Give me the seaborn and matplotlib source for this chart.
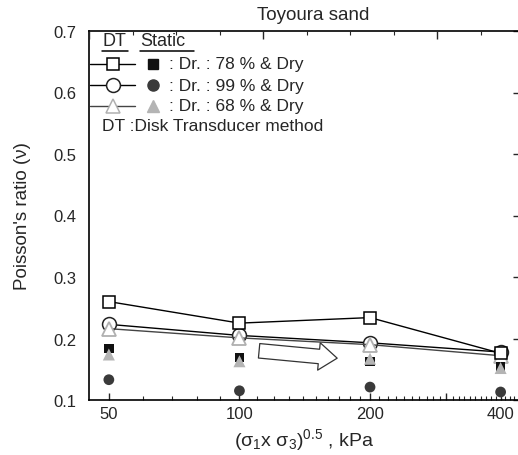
import seaborn as sns
import matplotlib.pyplot as plt
from matplotlib.ticker import FixedLocator, NullFormatter, MultipleLocator

# mean effective stress (kPa)
p_kpa = [50, 100, 200, 400]

# DT : disk transducer method
dt_78 = [0.260, 0.225, 0.234, 0.176]
dt_99 = [0.223, 0.205, 0.193, 0.178]
dt_68 = [0.216, 0.201, 0.190, 0.172]

# static
st_78 = [0.184, 0.169, 0.163, 0.154]
st_99 = [0.133, 0.115, 0.121, 0.113]
st_68 = [0.174, 0.163, 0.167, 0.152]

x_ticks = [50, 100, 200, 300, 400]
x_ticklabels = ["50", "100", "200", "", "400"]
legend_labels = [": Dr. : 78 % & Dry", ": Dr. : 99 % & Dry", ": Dr. : 68 % & Dry"]

sns.set_theme(style="white")
plt.rcParams["font.family"] = ["Liberation Sans", "DejaVu Sans"]
plt.rcParams["mathtext.default"] = "regular"

W, H = 518, 456
fig = plt.figure(figsize=(W / 100, H / 100), dpi=100)
L, R, T, B = 89, 519, 32, 401
ax = fig.add_axes([L / W, (H - B) / H, (R - L) / W, (B - T) / H])
ax.set_xscale("log")

# DT series (lines + open markers)
sns.lineplot(x=p_kpa, y=dt_78, ax=ax, color="black", lw=1.0, marker="s", markersize=9,
             markerfacecolor="white", markeredgecolor="black", markeredgewidth=1.1, zorder=4)
sns.lineplot(x=p_kpa, y=dt_99, ax=ax, color="black", lw=1.0, marker="o", markersize=10,
             markerfacecolor="white", markeredgecolor="#222222", markeredgewidth=1.1, zorder=3)
sns.lineplot(x=p_kpa, y=dt_68, ax=ax, color="#444444", lw=1.0, marker="^", markersize=10,
             markerfacecolor="white", markeredgecolor="#b0b0b0", markeredgewidth=1.3, zorder=3.5)

# static series (filled markers)
sns.scatterplot(x=p_kpa, y=st_78, ax=ax, marker="s", s=45, color="#111111", edgecolor="none", zorder=4)
sns.scatterplot(x=p_kpa, y=st_99, ax=ax, marker="o", s=60, color="#3a3a3a", edgecolor="none", zorder=4)
sns.scatterplot(x=p_kpa, y=st_68, ax=ax, marker="^", s=75, color="#b4b4b4", edgecolor="none", zorder=5)

ax.set_xlim(45, 441)
ax.set_ylim(0.1, 0.7)
ax.xaxis.set_major_locator(FixedLocator(x_ticks))
ax.set_xticklabels(x_ticklabels)
ax.xaxis.set_minor_locator(FixedLocator([v for v in range(50, 441, 10) if v not in x_ticks]))
ax.xaxis.set_minor_formatter(NullFormatter())
ax.yaxis.set_major_locator(MultipleLocator(0.1))
ax.yaxis.set_minor_locator(MultipleLocator(0.05))
ax.set_yticklabels([f"{v:.1f}" for v in ax.get_yticks()])

ax.tick_params(axis="x", which="major", direction="in", length=5, width=1, top=False, pad=4, labelsize=12)
ax.tick_params(axis="x", which="minor", direction="in", length=3, width=0.8, top=False)
ax.tick_params(axis="y", which="major", direction="in", length=4, width=1, right=True, pad=9, labelsize=12)
ax.tick_params(axis="y", which="minor", direction="in", length=3, width=0.8, right=False)
for sp in ax.spines.values():
    sp.set_color("black")
    sp.set_linewidth(1.2)

# top axis has its own linear ticks
ax2 = ax.twiny()
ax2.set_xlim(0, (R - L) / 43.5)
ax2.xaxis.set_major_locator(MultipleLocator(4))
ax2.xaxis.set_minor_locator(MultipleLocator(1))
ax2.tick_params(axis="x", which="major", direction="in", length=6, width=1, labeltop=False)
ax2.tick_params(axis="x", which="minor", direction="in", length=3, width=0.8)
for sp in ax2.spines.values():
    sp.set_visible(False)

ax.set_xlabel("(σ$_1$x σ$_3$)$^{0.5}$ , kPa", fontsize=14, labelpad=4)
ax.set_ylabel("Poisson's ratio (ν)", fontsize=13.5, labelpad=16)
fig.text(313 / W, 1 - 16 / H, "Toyoura sand", ha="center", va="center", fontsize=13.5)

# hollow arrow
ax.annotate("", xy=(168, 0.168), xytext=(111, 0.180),
            arrowprops=dict(arrowstyle="simple,head_length=1.2,head_width=1.8,tail_width=0.95",
                            fc="white", ec="#333333", lw=0.9, shrinkA=0, shrinkB=0,
                            mutation_scale=11), zorder=2)

# hand-made legend (pixel -> axes fraction)
def fx(px):
    return (px - L) / (R - L)

def fy(py):
    return (B - py) / (B - T)

tr = ax.transAxes
ax.text(fx(102), fy(42), "DT", transform=tr, fontsize=13, va="center", ha="left")
ax.text(fx(140), fy(42), "Static", transform=tr, fontsize=13, va="center", ha="left")
ax.plot([fx(102), fx(128)], [fy(52), fy(52)], transform=tr, color="black", lw=1.1, clip_on=False)
ax.plot([fx(140), fx(194)], [fy(52), fy(52)], transform=tr, color="black", lw=1.1, clip_on=False)

rows_y = [65, 86, 107]
dt_styles = [("s", 9, "black", "black"), ("o", 10, "#222222", "black"), ("^", 10, "#b0b0b0", "#444444")]
st_styles = [("s", 7, "#111111"), ("o", 8, "#3a3a3a"), ("^", 9, "#b4b4b4")]
for ry, (m, ms, mec, lc), (sm, sms, sc), lab in zip(rows_y, dt_styles, st_styles, legend_labels):
    ax.plot([fx(90), fx(135)], [fy(ry), fy(ry)], transform=tr, color=lc, lw=1.0, clip_on=False)
    ax.plot([fx(113)], [fy(ry)], transform=tr, marker=m, ms=ms, mfc="white", mec=mec, mew=1.1,
            ls="none", clip_on=False)
    ax.plot([fx(153)], [fy(ry)], transform=tr, marker=sm, ms=sms, color=sc, ls="none", clip_on=False)
    ax.text(fx(169), fy(ry), lab, transform=tr, fontsize=12.5, va="center", ha="left")
ax.text(fx(102), fy(127), "DT :Disk Transducer method", transform=tr, fontsize=12.5, va="center", ha="left")

fig.savefig("out.png", dpi=100)
